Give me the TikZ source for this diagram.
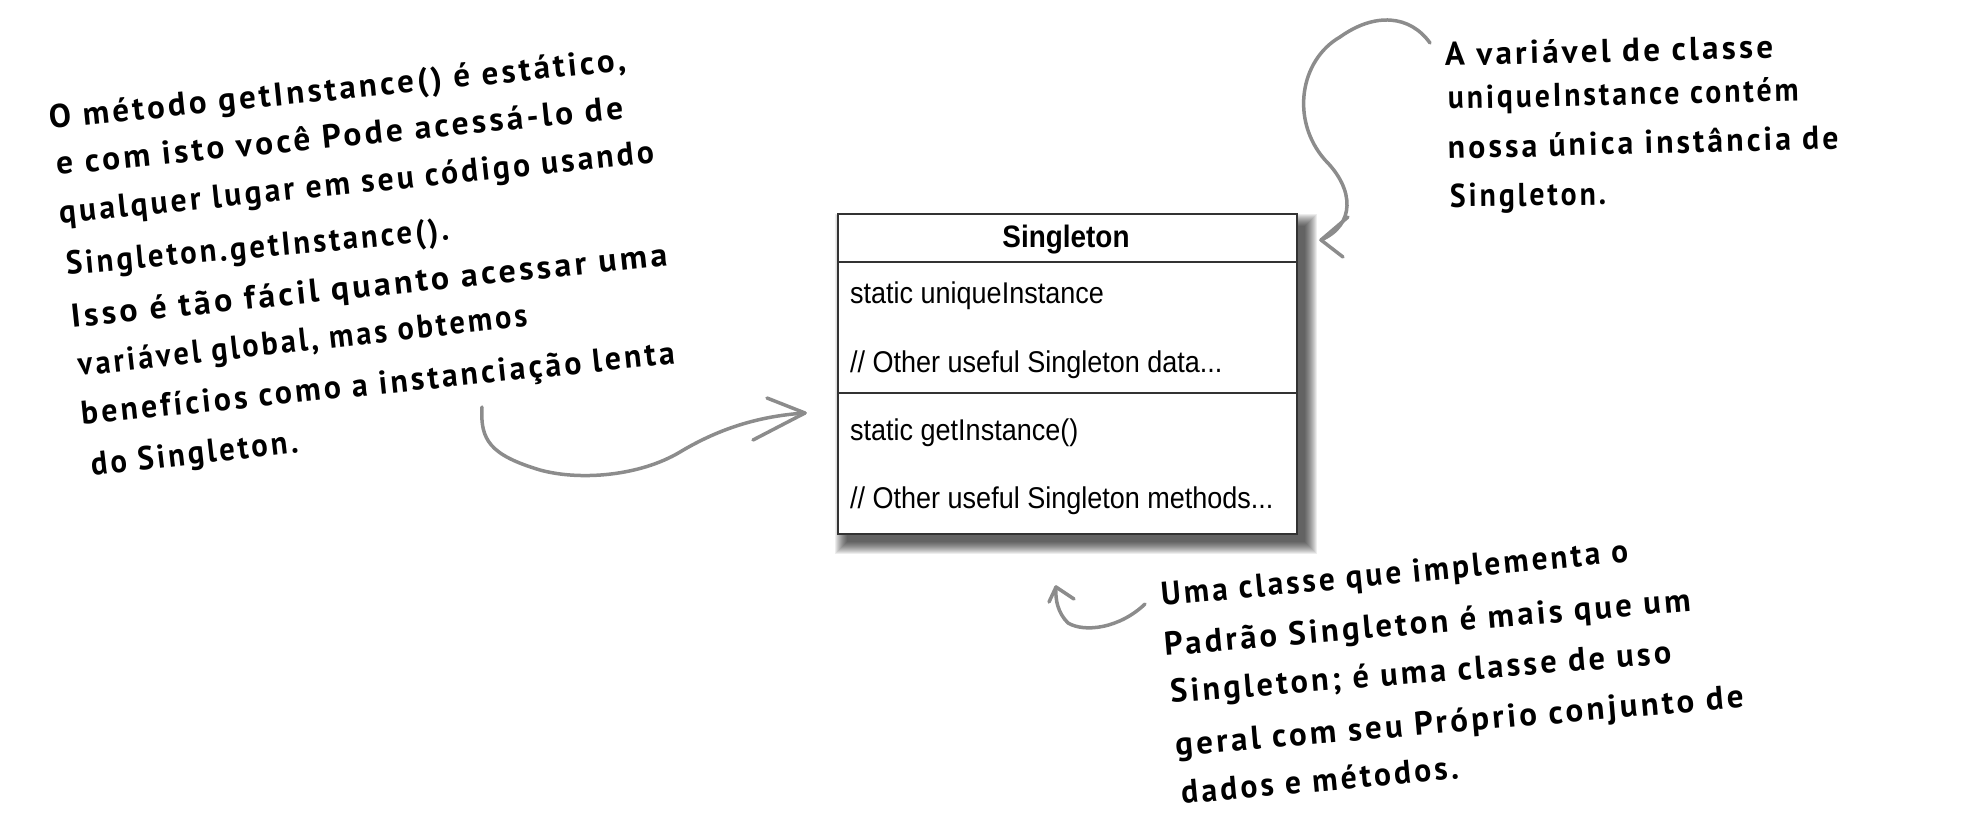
\documentclass[tikz,border=0pt]{standalone}
\usepackage{graphicx}
\usepackage{fontspec}
\setmainfont{PT Sans}[LetterSpace=10]
\newfontfamily\umlfont[FakeStretch=0.9]{Liberation Sans}
\definecolor{arrowgray}{HTML}{8C8C8C}
\definecolor{boxline}{HTML}{333333}
\newcommand{\sx}[2]{\scalebox{#1}[1]{#2}}
\begin{document}
\begin{tikzpicture}[x=1pt,y=-1pt,
  hand/.style={font=\bfseries\fontsize{33}{40}\selectfont, anchor=base west, inner sep=0pt},
  uml/.style={font=\umlfont\fontsize{30}{36}\selectfont, anchor=base west, inner sep=0pt},
  umltitle/.style={font=\umlfont\bfseries\fontsize{31}{36}\selectfont, anchor=base, inner sep=0pt},
  arr/.style={draw=arrowgray, line width=3.5pt, line cap=round, line join=round}]
\useasboundingbox (0,0) rectangle (1978,830);
% shadow
\foreach \r in {12,11,...,0}{
  \fill[black,opacity=0.07] (847-\r,226-\r) rectangle (1305+\r,542+\r);
}
% class box
\node[draw=boxline, fill=white, line width=1.6pt, minimum width=459pt, minimum height=320pt, inner sep=0pt, anchor=north west] (box) at (837,213) {};
\coordinate (s1) at (0,262);
\coordinate (s2) at (0,393);
\draw[boxline, line width=1.6pt] (box.west |- s1) -- (box.east |- s1);
\draw[boxline, line width=1.6pt] (box.west |- s2) -- (box.east |- s2);
\node[umltitle] (title) at (1066,247) {Singleton};
\node[uml] (f1) at (850,303) {static uniqueInstance};
\node[uml] (f2) at (850,372) {// Other useful Singleton data...};
\node[uml] (m1) at (850,440) {static getInstance()};
\node[uml] (m2) at (850,508) {// Other useful Singleton methods...};
% left note
\node[hand, rotate=5.8] (l1) at (50,129) {O método getInstance() é estático,};
\node[hand, rotate=5.7] (l2) at (57,175) {\sx{1.015}{e com isto você Pode acessá-lo de}};
\node[hand, rotate=5.9] (l3) at (60,224) {\sx{0.96}{qualquer lugar em seu código usando}};
\node[hand, rotate=5.2] (l4) at (67,275) {\sx{0.93}{Singleton.getInstance().}};
\node[hand, rotate=6.0] (l5) at (72,328) {\sx{1.03}{Isso é tão fácil quanto acessar uma}};
\node[hand, rotate=6.3] (l6) at (79,376) {\sx{0.92}{variável global, mas obtemos}};
\node[hand, rotate=5.9] (l7) at (82,425) {\sx{0.965}{benefícios como a instanciação lenta}};
\node[hand, rotate=6.5] (l8) at (92,476) {\sx{0.93}{do Singleton.}};
% top right note
\node[hand, rotate=1.4] (r1) at (1445,66) {A variável de classe};
\node[hand, rotate=1.3] (r2) at (1448,109) {\sx{0.9}{uniqueInstance contém}};
\node[hand, rotate=1.5] (r3) at (1448,159) {\sx{0.96}{nossa única instância de}};
\node[hand, rotate=0.8] (r4) at (1450,207) {\sx{0.9}{Singleton.}};
% bottom right note
\node[hand, rotate=5.4] (b1) at (1162,606) {\sx{0.95}{Uma classe que implementa o}};
\node[hand, rotate=4.9] (b2) at (1165,656) {\sx{0.99}{Padrão Singleton é mais que um}};
\node[hand, rotate=4.5] (b3) at (1171,703) {\sx{0.98}{Singleton; é uma classe de uso}};
\node[hand, rotate=4.9] (b4) at (1176,756) {geral com seu Próprio conjunto de};
\node[hand, rotate=5.2] (b5) at (1182,804) {\sx{0.96}{dados e métodos.}};
% arrow 1 (left note to box)
\coordinate (a1s) at (482,407);
\coordinate (a1t) at (805,413);
\coordinate (a1u) at (767,398);
\coordinate (a1d) at (753,440);
\draw[arr] (a1s) .. controls (480,440) and (490,455) .. (540,470)
  .. controls (580,481) and (640,476) .. (680,452)
  .. controls (720,428) and (760,416) .. (a1t);
\draw[arr] (a1u) -- (a1t) -- (a1d);
% arrow 2 (top right note to box)
\coordinate (a2s) at (1430,43);
\coordinate (a2t) at (1321,240);
\coordinate (a2u) at (1348,217);
\coordinate (a2d) at (1343,257);
\draw[arr] (a2s) .. controls (1410,15) and (1375,12) .. (1340,37)
  .. controls (1300,60) and (1290,120) .. (1325,160)
  .. controls (1355,190) and (1355,225) .. (a2t);
\draw[arr] (a2u) -- (a2t) -- (a2d);
% arrow 3 (bottom note to box)
\coordinate (a3s) at (1145,604);
\coordinate (a3t) at (1056,587);
\coordinate (a3l) at (1049,602);
\coordinate (a3r) at (1074,599);
\draw[arr] (a3s) .. controls (1120,628) and (1085,633) .. (1068,623)
  .. controls (1058,613) and (1055,600) .. (a3t);
\draw[arr] (a3l) -- (a3t) -- (a3r);
\end{tikzpicture}
\end{document}
